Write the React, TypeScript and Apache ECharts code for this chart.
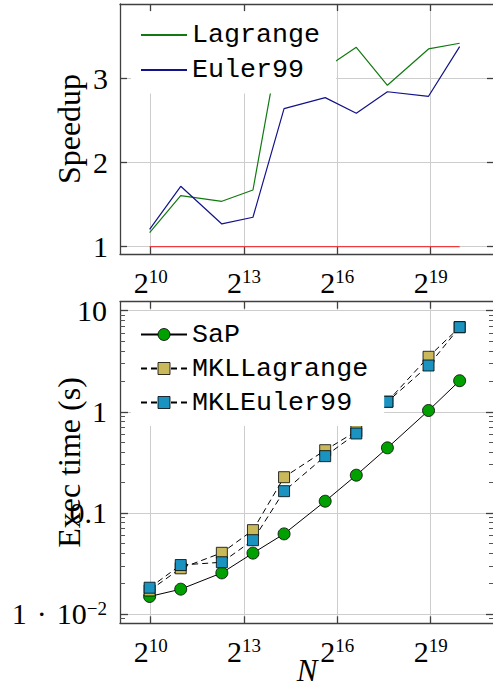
import React, { useEffect, useRef } from 'react';
import * as echarts from 'echarts';

// ---- data ----
const N = [1000, 2000, 5000, 10000, 20000, 50000, 100000, 200000, 500000, 1000000];
const xTickExponents = [10, 13, 16, 19];

const speedupTicks = [1, 2, 3];
const lagrangeSpeedup = [1.166, 1.606, 1.539, 1.673, 3.72, 3.12, 3.368, 2.917, 3.348, 3.416];
const euler99Speedup = [1.206, 1.717, 1.27, 1.349, 2.64, 2.77, 2.584, 2.84, 2.786, 3.376];
const baselineSpeedup = [1, 1, 1, 1, 1, 1, 1, 1, 1, 1];

const timeTicks = [0.01, 0.1, 1, 10];
const timeTickLabels = ['1\u2004·\u200410', '0.1', '1', '10'];
const timeTickSup = ['−2', '', '', ''];
const timeMinorTicks = [
  0.009,
  0.02, 0.03, 0.04, 0.05, 0.06, 0.07, 0.08, 0.09,
  0.2, 0.3, 0.4, 0.5, 0.6, 0.7, 0.8, 0.9,
  2, 3, 4, 5, 6, 7, 8, 9,
];
const sapTime = [0.0149, 0.0176, 0.0255, 0.040, 0.062, 0.1305, 0.236, 0.44, 1.03, 2.03];
const mklLagrangeTime = [0.0171, 0.0283, 0.0403, 0.0675, 0.2255, 0.417, 0.643, 1.26, 3.5, 6.87];
const mklEuler99Time = [0.0182, 0.0305, 0.0325, 0.0537, 0.164, 0.364, 0.61, 1.256, 2.87, 6.87];

// ---- styles ----
const SERIF = 'Liberation Serif';
const MONO = 'Liberation Mono';
const X_MIN = 9.014;
const X_MAX = 21.036;
const axisLineStyle = { color: '#404040', width: 1.3 };
const gridLineStyle = { color: '#cdcdcd', width: 1 };

const xPos = N.map((n) => Math.log2(n));

const richNum = {
  b: { fontFamily: SERIF, fontSize: 30, lineHeight: 30, color: '#000' },
  s: { fontFamily: SERIF, fontSize: 19, lineHeight: 19, verticalAlign: 'top', color: '#000' },
};

function makeXAxes(gridIndex: number, name: string) {
  return [
    {
      type: 'value',
      gridIndex,
      position: 'bottom',
      min: X_MIN,
      max: X_MAX,
      name,
      nameLocation: 'middle',
      nameGap: 32,
      nameMoveOverlap: false,
      nameTextStyle: { fontFamily: SERIF, fontStyle: 'italic', fontSize: 31, color: '#000' },
      axisLine: { show: true, onZero: false, lineStyle: axisLineStyle },
      axisTick: { show: true, inside: true, length: 7, customValues: xTickExponents, lineStyle: axisLineStyle },
      axisLabel: {
        show: true,
        customValues: xTickExponents,
        margin: 13,
        formatter: (v: number) => `{b|2}{s|${Math.round(v)}}`,
        rich: richNum,
      },
      splitLine: { show: true, lineStyle: gridLineStyle },
    },
    {
      type: 'value',
      gridIndex,
      position: 'top',
      min: X_MIN,
      max: X_MAX,
      axisLine: { show: true, onZero: false, lineStyle: axisLineStyle },
      axisTick: { show: true, inside: true, length: 7, customValues: xTickExponents, lineStyle: axisLineStyle },
      axisLabel: { show: false },
      splitLine: { show: false },
    },
  ];
}

const speedMin = 0.913;
const speedMax = 3.882;
const timeLogMin = -2.092;
const timeLogMax = 1.089;
const timeMajorLog = timeTicks.map((t) => Math.log10(t));
const timeMinorLog = timeMinorTicks.map((t) => Math.log10(t));

const yAxes = [
  // top grid: left
  {
    type: 'value',
    gridIndex: 0,
    position: 'left',
    min: speedMin,
    max: speedMax,
    name: 'Speedup',
    nameLocation: 'middle',
    nameGap: 35,
    nameMoveOverlap: false,
    nameTextStyle: { fontFamily: SERIF, fontSize: 32, color: '#000' },
    axisLine: { show: true, onZero: false, lineStyle: axisLineStyle },
    axisTick: { show: true, inside: true, length: 7, customValues: speedupTicks, lineStyle: axisLineStyle },
    axisLabel: {
      show: true,
      customValues: speedupTicks,
      margin: 12,
      formatter: (v: number) => `{b|${Math.round(v)}}`,
      rich: richNum,
    },
    splitLine: { show: true, lineStyle: gridLineStyle },
  },
  // top grid: right
  {
    type: 'value',
    gridIndex: 0,
    position: 'right',
    min: speedMin,
    max: speedMax,
    axisLine: { show: true, onZero: false, lineStyle: axisLineStyle },
    axisTick: { show: true, inside: true, length: 7, customValues: speedupTicks, lineStyle: axisLineStyle },
    axisLabel: { show: false },
    splitLine: { show: false },
  },
  // bottom grid: left major
  {
    type: 'value',
    gridIndex: 1,
    position: 'left',
    min: timeLogMin,
    max: timeLogMax,
    name: 'Exec time (s)',
    nameLocation: 'middle',
    nameGap: 35,
    nameMoveOverlap: false,
    nameTextStyle: { fontFamily: SERIF, fontSize: 32, color: '#000' },
    axisLine: { show: true, onZero: false, lineStyle: axisLineStyle },
    axisTick: { show: true, inside: true, length: 8, customValues: timeMajorLog, lineStyle: axisLineStyle },
    axisLabel: {
      show: true,
      customValues: timeMajorLog,
      margin: 13,
      formatter: (v: number) => {
        const i = timeMajorLog.findIndex((t) => Math.abs(t - v) < 1e-6);
        if (i < 0) return '';
        return timeTickSup[i] ? `{b|${timeTickLabels[i]}}{s|${timeTickSup[i]}}` : `{b|${timeTickLabels[i]}}`;
      },
      rich: richNum,
    },
    splitLine: { show: true, lineStyle: gridLineStyle },
  },
  // bottom grid: left minor
  {
    type: 'value',
    gridIndex: 1,
    position: 'left',
    min: timeLogMin,
    max: timeLogMax,
    axisLine: { show: false },
    axisTick: { show: true, inside: true, length: 5, customValues: timeMinorLog, lineStyle: { color: '#555', width: 1 } },
    axisLabel: { show: false },
    splitLine: { show: false },
  },
  // bottom grid: right major
  {
    type: 'value',
    gridIndex: 1,
    position: 'right',
    min: timeLogMin,
    max: timeLogMax,
    axisLine: { show: true, onZero: false, lineStyle: axisLineStyle },
    axisTick: { show: true, inside: true, length: 8, customValues: timeMajorLog, lineStyle: axisLineStyle },
    axisLabel: { show: false },
    splitLine: { show: false },
  },
  // bottom grid: right minor
  {
    type: 'value',
    gridIndex: 1,
    position: 'right',
    min: timeLogMin,
    max: timeLogMax,
    axisLine: { show: false },
    axisTick: { show: true, inside: true, length: 5, customValues: timeMinorLog, lineStyle: { color: '#555', width: 1 } },
    axisLabel: { show: false },
    splitLine: { show: false },
  },
];

const pairs = (ys: number[]) => xPos.map((x, i) => [x, ys[i]]);
const logPairs = (ys: number[]) => xPos.map((x, i) => [x, Math.log10(ys[i])]);

const option: any = {
  animation: false,
  grid: [
    { left: 120, top: 4, width: 374, height: 250, containLabel: false, outerBoundsMode: 'none' },
    { left: 120, top: 301.7, width: 374, height: 321.6, containLabel: false, outerBoundsMode: 'none' },
  ],
  xAxis: [...makeXAxes(0, ''), ...makeXAxes(1, 'N')],
  yAxis: yAxes,
  legend: [
    {
      data: ['Lagrange', 'Euler99'],
      orient: 'vertical',
      left: 131,
      top: 11.5,
      padding: [10, 16, 10, 9],
      itemWidth: 46,
      itemHeight: 2,
      itemGap: 8,
      selectedMode: false,
      backgroundColor: '#fff',
      textStyle: { fontFamily: MONO, fontSize: 26.7, color: '#000' },
    },
    {
      data: ['SaP', 'MKLLagrange', 'MKLEuler99'],
      orient: 'vertical',
      left: 131,
      top: 311,
      padding: [10, 16, 10, 9],
      itemWidth: 46,
      itemHeight: 15,
      itemGap: 7,
      selectedMode: false,
      backgroundColor: '#fff',
      itemStyle: { borderWidth: 0.8 },
      textStyle: { fontFamily: MONO, fontSize: 26.7, color: '#000' },
    },
  ],
  series: [
    {
      name: 'Lagrange',
      type: 'line',
      xAxisIndex: 0,
      yAxisIndex: 0,
      data: pairs(lagrangeSpeedup),
      symbol: 'none',
      color: '#107a10',
      lineStyle: { color: '#107a10', width: 1.2 },
    },
    {
      name: 'Euler99',
      type: 'line',
      xAxisIndex: 0,
      yAxisIndex: 0,
      data: pairs(euler99Speedup),
      symbol: 'none',
      color: '#12128a',
      lineStyle: { color: '#12128a', width: 1.2 },
    },
    {
      name: 'baseline',
      type: 'line',
      xAxisIndex: 0,
      yAxisIndex: 0,
      data: pairs(baselineSpeedup),
      symbol: 'none',
      color: '#ef3b3b',
      lineStyle: { color: '#ef3b3b', width: 1.4 },
    },
    {
      name: 'SaP',
      type: 'line',
      xAxisIndex: 2,
      yAxisIndex: 2,
      data: logPairs(sapTime),
      symbol: 'circle',
      symbolSize: 12,
      color: '#00a000',
      itemStyle: { color: '#00a000', borderColor: '#000', borderWidth: 0.8 },
      lineStyle: { color: '#000', width: 1 },
    },
    {
      name: 'MKLLagrange',
      type: 'line',
      xAxisIndex: 2,
      yAxisIndex: 2,
      data: logPairs(mklLagrangeTime),
      symbol: 'rect',
      symbolSize: 11,
      color: '#c9b95a',
      itemStyle: { color: '#c9b95a', borderColor: '#000', borderWidth: 0.8 },
      lineStyle: { color: '#000', width: 1, type: [6, 4] },
    },
    {
      name: 'MKLEuler99',
      type: 'line',
      xAxisIndex: 2,
      yAxisIndex: 2,
      data: logPairs(mklEuler99Time),
      symbol: 'rect',
      symbolSize: 11,
      color: '#1a93c0',
      itemStyle: { color: '#1a93c0', borderColor: '#000', borderWidth: 0.8 },
      lineStyle: { color: '#000', width: 1, type: [6, 4] },
    },
  ],
};

export default function App() {
  const ref = useRef<HTMLDivElement>(null);
  useEffect(() => {
    const chart = echarts.init(ref.current as HTMLDivElement, null, { renderer: 'svg' });
    chart.setOption(option);
    return () => chart.dispose();
  }, []);
  return (
    <div
      ref={ref}
      style={{ position: 'fixed', left: 0, top: 0, width: 500, height: 687, background: '#fff' }}
    />
  );
}
